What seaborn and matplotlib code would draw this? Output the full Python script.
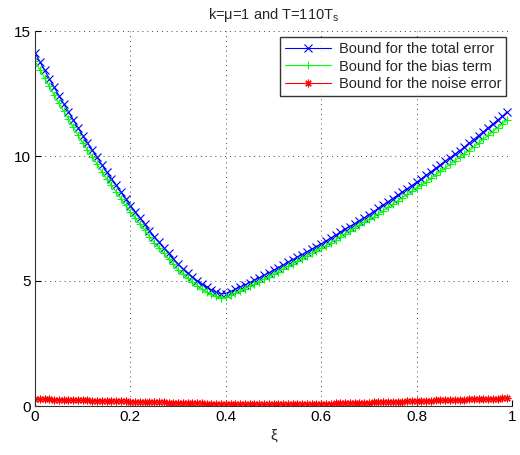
import numpy as np
import pandas as pd
import seaborn as sns
import matplotlib.pyplot as plt

# xi grid, step 0.01
xi = np.round(np.arange(0, 1.0, 0.01), 2)

total_err = [
    14.12, 13.78, 13.44, 13.10, 12.76, 12.42, 12.10, 11.78, 11.46, 11.14,
    10.82, 10.53, 10.24, 9.95, 9.66, 9.37, 9.10, 8.83, 8.56, 8.29,
    8.02, 7.77, 7.52, 7.27, 7.02, 6.77, 6.55, 6.33, 6.11, 5.89,
    5.67, 5.49, 5.32, 5.16, 5.01, 4.87, 4.75, 4.64, 4.55, 4.49,
    4.50, 4.58, 4.67, 4.76, 4.85, 4.94, 5.03, 5.13, 5.23, 5.33,
    5.43, 5.54, 5.64, 5.75, 5.85, 5.96, 6.06, 6.17, 6.27, 6.38,
    6.48, 6.60, 6.72, 6.83, 6.95, 7.07, 7.18, 7.30, 7.42, 7.53,
    7.65, 7.78, 7.91, 8.04, 8.17, 8.30, 8.43, 8.56, 8.69, 8.82,
    8.95, 9.09, 9.23, 9.37, 9.51, 9.65, 9.79, 9.93, 10.07, 10.21,
    10.35, 10.51, 10.66, 10.82, 10.97, 11.13, 11.28, 11.44, 11.59, 11.75,
]

bias_term = [
    13.80, 13.46, 13.12, 12.79, 12.45, 12.11, 11.80, 11.48, 11.16, 10.84,
    10.52, 10.25, 9.96, 9.67, 9.38, 9.09, 8.84, 8.57, 8.30, 8.03,
    7.76, 7.53, 7.28, 7.03, 6.78, 6.53, 6.33, 6.11, 5.89, 5.67,
    5.45, 5.29, 5.12, 4.96, 4.82, 4.68, 4.57, 4.47, 4.39, 4.33,
    4.35, 4.43, 4.52, 4.61, 4.70, 4.79, 4.88, 4.98, 5.08, 5.18,
    5.28, 5.38, 5.48, 5.59, 5.69, 5.80, 5.90, 6.01, 6.11, 6.22,
    6.32, 6.42, 6.54, 6.65, 6.77, 6.89, 7.00, 7.12, 7.24, 7.35,
    7.47, 7.56, 7.69, 7.82, 7.95, 8.08, 8.21, 8.34, 8.47, 8.60,
    8.73, 8.83, 8.97, 9.11, 9.25, 9.39, 9.53, 9.67, 9.81, 9.95,
    10.09, 10.21, 10.36, 10.52, 10.67, 10.83, 10.98, 11.14, 11.29, 11.45,
]

noise_err = [
    0.280, 0.275, 0.270, 0.265, 0.260, 0.255, 0.250, 0.245, 0.240, 0.235,
    0.230, 0.225, 0.220, 0.215, 0.210, 0.205, 0.200, 0.195, 0.190, 0.185,
    0.180, 0.175, 0.170, 0.165, 0.160, 0.155, 0.150, 0.145, 0.140, 0.135,
    0.130, 0.125, 0.120, 0.115, 0.110, 0.105, 0.100, 0.096, 0.092, 0.088,
    0.085, 0.082, 0.079, 0.076, 0.074, 0.072, 0.070, 0.069, 0.068, 0.068,
    0.068, 0.069, 0.070, 0.072, 0.074, 0.076, 0.079, 0.082, 0.085, 0.088,
    0.092, 0.096, 0.100, 0.105, 0.110, 0.115, 0.120, 0.125, 0.130, 0.135,
    0.140, 0.145, 0.150, 0.156, 0.162, 0.168, 0.174, 0.180, 0.186, 0.192,
    0.198, 0.204, 0.210, 0.216, 0.222, 0.228, 0.234, 0.240, 0.246, 0.252,
    0.258, 0.264, 0.270, 0.276, 0.282, 0.288, 0.294, 0.300, 0.305, 0.310,
]

labels = ["Bound for the total error", "Bound for the bias term", "Bound for the noise error"]
colors = ["#0000ff", "#00ff00", "#ff0000"]
markers = ["x", "+", (8, 2, 0)]

sns.set_style("ticks")
plt.rcParams["font.family"] = ["Liberation Sans", "DejaVu Sans"]
plt.rcParams["mathtext.fontset"] = "custom"
plt.rcParams["mathtext.rm"] = "Liberation Sans"
plt.rcParams["mathtext.it"] = "Liberation Sans"

fig = plt.figure(figsize=(5.2, 4.55), dpi=100)
ax = fig.add_axes([35 / 520, 1 - 406 / 455, 477 / 520, 375 / 455])

for vals, lab, c, m in zip([total_err, bias_term, noise_err], labels, colors, markers):
    sns.lineplot(x=xi, y=vals, ax=ax, color=c, marker=m, markersize=5.5,
                 markeredgecolor=c, markerfacecolor=c, markeredgewidth=0.8,
                 linewidth=0.8, label=lab, estimator=None)

ax.set_xlim(0, 1)
ax.set_ylim(0, 15)
ax.set_xticks([0, 0.2, 0.4, 0.6, 0.8, 1])
ax.set_xticklabels(["0", "0.2", "0.4", "0.6", "0.8", "1"])
ax.set_yticks([0, 5, 10, 15])
ax.grid(True, linestyle=(0, (1, 4)), color="#444444", linewidth=0.7)
ax.tick_params(direction="in", length=4, labelsize=11, colors="black", pad=3)
for s in ["top", "right"]:
    ax.spines[s].set_visible(False)
for s in ["left", "bottom"]:
    ax.spines[s].set_color("#333333")
    ax.spines[s].set_linewidth(0.8)

ax.set_xlabel("ξ", fontsize=11, labelpad=3)
ax.set_ylabel("")
ax.set_title("k=μ=1 and T=110T$_\\mathregular{s}$", fontsize=10.5, pad=9)

leg = ax.legend(loc="upper right", fontsize=10.5, frameon=True, fancybox=False,
                edgecolor="black", borderaxespad=0.4, handlelength=3.2,
                labelspacing=0.25, borderpad=0.35, handletextpad=0.5)
leg.get_frame().set_linewidth(1.0)

fig.savefig("out.png", dpi=100)
